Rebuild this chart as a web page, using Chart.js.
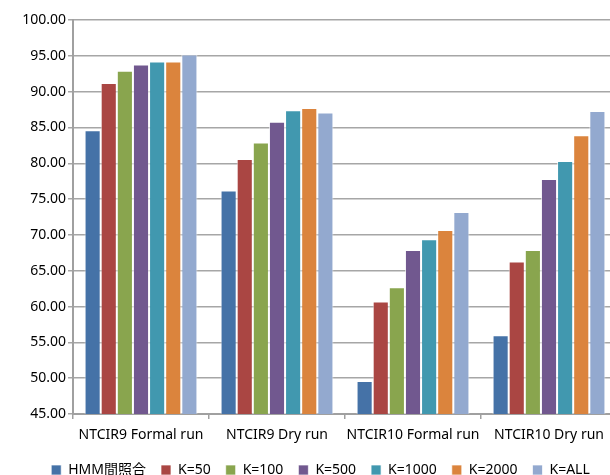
<!DOCTYPE html>
<html>
<head>
<meta charset="utf-8">
<script src="https://cdn.jsdelivr.net/npm/chart.js@4/dist/chart.umd.min.js"></script>
<style>
  html, body { margin: 0; padding: 0; background: #fff; overflow: hidden; }
  #wrap { width: 617px; height: 475px; }
</style>
</head>
<body>
<div id="wrap"><canvas id="chart"></canvas></div>
<script>
// categories and series
const categories = ["NTCIR9 Formal run", "NTCIR9 Dry run", "NTCIR10 Formal run", "NTCIR10 Dry run"];
const seriesNames = ["HMM間照合", "K=50", "K=100", "K=500", "K=1000", "K=2000", "K=ALL"];
const seriesColors = ["#4572A7", "#AA4643", "#89A54E", "#71588F", "#4198AF", "#DB843D", "#93A9CF"];

const hmm   = [84.6, 76.2, 49.6, 56.0];
const k50   = [91.2, 80.6, 60.7, 66.3];
const k100  = [92.9, 82.9, 62.7, 67.9];
const k500  = [93.8, 85.8, 67.9, 77.8];
const k1000 = [94.2, 87.4, 69.4, 80.3];
const k2000 = [94.2, 87.7, 70.7, 83.9];
const kAll  = [95.2, 87.1, 73.2, 87.3];

const yMin = 45, yMax = 100, yStep = 5;

const seriesValues = [hmm, k50, k100, k500, k1000, k2000, kAll];

const datasets = seriesNames.map((name, i) => ({
    label: name,
    data: seriesValues[i],
    backgroundColor: seriesColors[i],
    borderColor: "rgba(255,255,255,0.7)",
    borderWidth: 1,
    borderSkipped: "bottom",
    categoryPercentage: 0.83,
    barPercentage: 1.0
}));

const font = { family: "'Noto Sans', 'Noto Sans CJK JP', sans-serif", size: 14 };

// legend sits a little right of centre in the original
const legendShift = {
    id: "legendShift",
    afterLayout(chart) {
        if (chart.legend) {
            chart.legend.left += 12;
            chart.legend.right += 12;
        }
    }
};

new Chart(document.getElementById("chart"), {
    type: "bar",
    data: { labels: categories, datasets: datasets },
    plugins: [legendShift],
    options: {
        responsive: true,
        maintainAspectRatio: false,
        animation: false,
        layout: { padding: { top: 20, left: 0, right: 0, bottom: -12 } },
        plugins: {
            tooltip: { enabled: false },
            legend: {
                position: "bottom",
                labels: {
                    color: "#000",
                    font: font,
                    boxWidth: 10,
                    boxHeight: 10,
                    padding: 15,
                    useBorderRadius: false
                }
            }
        },
        scales: {
            x: {
                offset: true,
                ticks: {
                    color: "#000",
                    font: font,
                    padding: 8,
                    maxRotation: 0,
                    minRotation: 0,
                    autoSkip: false
                },
                grid: {
                    offset: true,
                    drawOnChartArea: false,
                    drawTicks: true,
                    tickLength: 5,
                    color: "#A0A0A0",
                    lineWidth: 1.5
                },
                border: { color: "#A0A0A0", width: 2 },
                afterFit: s => { s.height = 34; }
            },
            y: {
                min: yMin,
                max: yMax,
                ticks: {
                    stepSize: yStep,
                    color: "#000",
                    font: font,
                    padding: 2,
                    callback: v => Number(v).toFixed(2)
                },
                grid: {
                    color: "#A6A6A6",
                    lineWidth: 1.5,
                    tickLength: 5
                },
                border: { color: "#A0A0A0", width: 2 },
                afterFit: s => { s.width = 73; }
            }
        }
    }
});
</script>
</body>
</html>
